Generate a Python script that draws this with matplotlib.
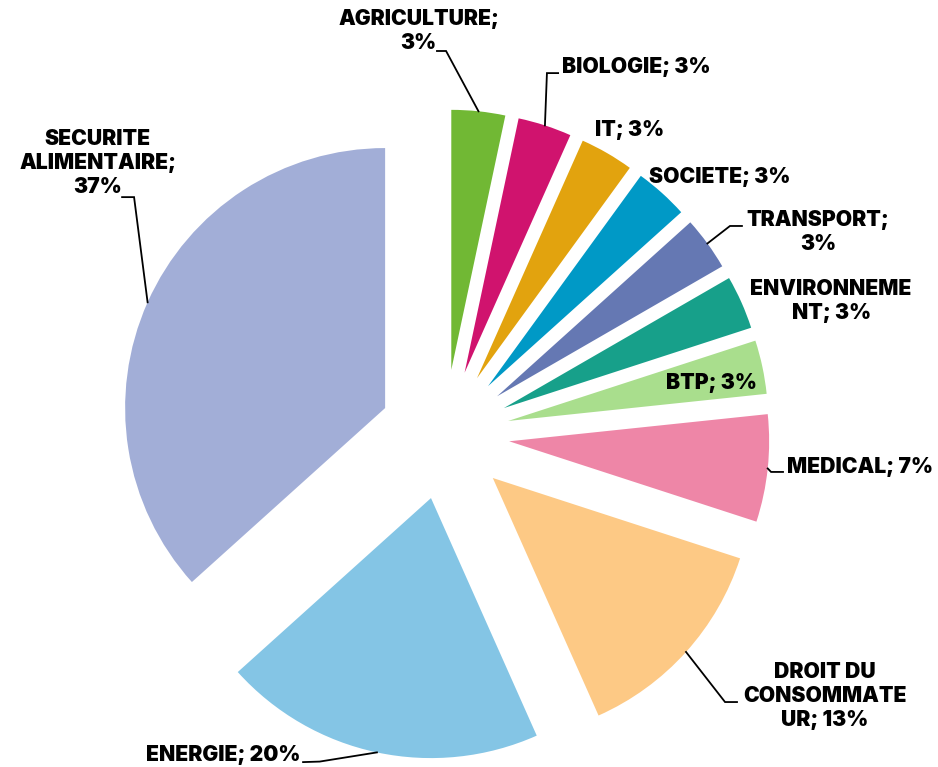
import numpy as np
import matplotlib
matplotlib.use("Agg")
import matplotlib.pyplot as plt

# counts behind the percentages (30 items in total)
labels = ["AGRICULTURE", "BIOLOGIE", "IT", "SOCIETE", "TRANSPORT",
          "ENVIRONNEMENT", "BTP", "MEDICAL", "DROIT DU CONSOMMATEUR",
          "ENERGIE", "SECURITE ALIMENTAIRE"]
counts = [1, 1, 1, 1, 1, 1, 1, 2, 4, 6, 11]
colors = ["#71B834", "#D0136E", "#E2A30E", "#0099C6", "#6578B3",
          "#17A08A", "#A9DE8D", "#EE86A7", "#FDC985", "#84C5E5", "#A2AED7"]

# label text as it appears (Excel wraps long names)
label_text = ["AGRICULTURE;\n3%", "BIOLOGIE; 3%", "IT; 3%", "SOCIETE; 3%",
              "TRANSPORT;\n3%", "ENVIRONNEME\nNT; 3%", "BTP; 3%",
              "MEDICAL; 7%", "DROIT DU\nCONSOMMATE\nUR; 13%",
              "ENERGIE; 20%", "SECURITE\nALIMENTAIRE;\n37%"]

# label centres in data units (pie radius = 1)
label_pos = [(-0.10, 1.552), (0.738, 1.413), (0.710, 1.171), (1.058, 0.990),
             (1.437, 0.777), (1.487, 0.513), (1.025, 0.198), (1.598, -0.125),
             (1.463, -1.004), (-0.850, -1.233), (-1.333, 1.046)]
# leader lines: (knee, end at label) or None
leaders = [((0.006, 1.475), (-0.029, 1.475)),
           ((0.394, 1.390), (0.437, 1.390)),
           None, None,
           ((1.098, 0.802), (1.144, 0.802)),
           None, None,
           ((1.256, -0.144), (1.302, -0.144)),
           ((1.079, -1.029), (1.125, -1.029)),
           ((-0.480, -1.258), (-0.544, -1.260)),
           ((-1.194, 0.913), (-1.240, 0.913))]

fig = plt.figure(figsize=(9.38, 7.67), dpi=100)
ax = fig.add_axes([0, 0, 1, 1])

explode = [0.25] * len(counts)
wedges, _ = ax.pie(counts, colors=colors, startangle=90, counterclock=False,
                   explode=explode, radius=1.0,
                   wedgeprops=dict(linewidth=0))

for w, txt, pos, ld in zip(wedges, label_text, label_pos, leaders):
    ax.text(pos[0], pos[1], txt, ha="center", va="center", fontsize=15.2,
            fontweight=900, family=["Inter", "DejaVu Sans"],
            linespacing=1.25, color="black")
    if ld is not None:
        mid = np.deg2rad((w.theta1 + w.theta2) / 2)
        cx, cy = w.center
        sx, sy = cx + w.r * np.cos(mid), cy + w.r * np.sin(mid)
        (kx, ky), (ex, ey) = ld
        ax.plot([sx, kx, ex], [sy, ky, ey], color="black", lw=1.3,
                solid_joinstyle="miter")

ax.set_aspect("equal")
ax.set_xlim(-444.5 / 260, (938 - 444.5) / 260)
ax.set_ylim(-(767 - 434.5) / 260, 434.5 / 260)
ax.axis("off")

fig.savefig("out.png", dpi=100)
